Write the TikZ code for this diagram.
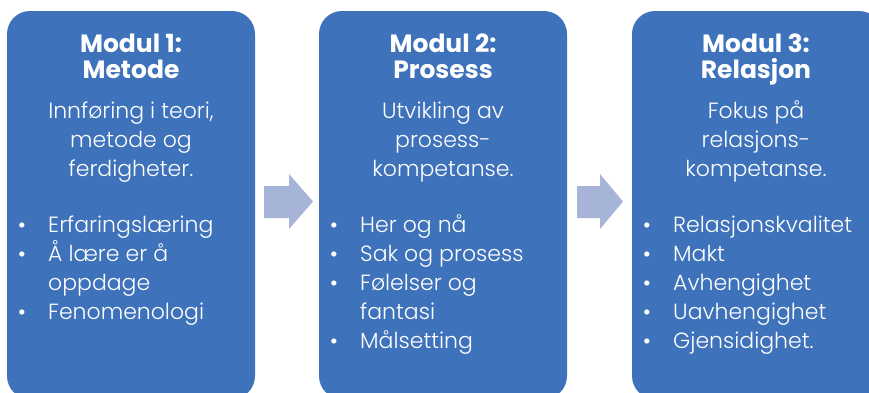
\documentclass[tikz,border=0pt]{standalone}
\usepackage{fontspec}
\setmainfont{Poppins}
\newfontfamily\lightfont{Poppins Light}
\definecolor{boxblue}{RGB}{62,114,186}
\definecolor{arrowblue}{RGB}{166,180,216}
\tikzset{
  modbox/.style={fill=boxblue, draw=none, rounded corners=23pt},
  flowarrow/.style={fill=arrowblue, draw=none},
  ttl/.style={anchor=base, inner sep=0pt, text=white, font=\fontsize{25}{25}\selectfont\bfseries},
  bodytxt/.style={anchor=base, inner sep=0pt, text=white, font=\lightfont\fontsize{22}{22}\selectfont},
  bul/.style={anchor=base, inner sep=0pt, text=white, font=\fontsize{21}{21}\selectfont},
  bultxt/.style={anchor=base west, inner sep=0pt, text=white, font=\lightfont\fontsize{22}{22}\selectfont},
}
\begin{document}
\begin{tikzpicture}[x=1pt,y=-1pt]
\useasboundingbox (0,0) rectangle (869,392);
\clip (0,0) rectangle (869,392);
% boxes
\fill[modbox] (7,11) rectangle (255,399);
\fill[modbox] (319,11) rectangle (567,399);
\fill[modbox] (632,11) rectangle (882,399);
% arrows
\fill[flowarrow] (264,186) -- (289,186) -- (289,174) -- (313,201.5) -- (289,229) -- (289,218) -- (264,218) -- cycle;
\fill[flowarrow] (577,186) -- (600,186) -- (600,174) -- (623,201.5) -- (600,229) -- (600,218) -- (577,218) -- cycle;
% box 1
\node[ttl] (t1a) at (131,52) {Modul 1:};
\node[ttl] (t1b) at (131,78) {Metode};
\node[bodytxt] (b1a) at (131,118) {Innføring i teori,};
\node[bodytxt] (b1b) at (131,147) {metode og};
\node[bodytxt] (b1c) at (131,176) {ferdigheter.};
\node[bul] (p1a) at (22,232) {•};
\node[bultxt] (l1a) at (48,232) {Erfaringslæring};
\node[bul] (p1b) at (22,261) {•};
\node[bultxt] (l1b) at (48,261) {Å lære er å};
\node[bultxt] (l1c) at (48,290) {oppdage};
\node[bul] (p1d) at (22,319) {•};
\node[bultxt] (l1d) at (48,319) {Fenomenologi};
% box 2
\node[ttl] (t2a) at (443,52) {Modul 2:};
\node[ttl] (t2b) at (443,78) {Prosess};
\node[bodytxt] (b2a) at (443,118) {Utvikling av};
\node[bodytxt] (b2b) at (443,147) {prosess-};
\node[bodytxt] (b2c) at (443,176) {kompetanse.};
\node[bul] (p2a) at (334,232) {•};
\node[bultxt] (l2a) at (360,232) {Her og nå};
\node[bul] (p2b) at (334,261) {•};
\node[bultxt] (l2b) at (360,261) {Sak og prosess};
\node[bul] (p2c) at (334,290) {•};
\node[bultxt] (l2c) at (360,290) {Følelser og};
\node[bultxt] (l2d) at (360,319) {fantasi};
\node[bul] (p2e) at (334,348) {•};
\node[bultxt] (l2e) at (360,348) {Målsetting};
% box 3
\node[ttl] (t3a) at (756,52) {Modul 3:};
\node[ttl] (t3b) at (756,78) {Relasjon};
\node[bodytxt] (b3a) at (756,118) {Fokus på};
\node[bodytxt] (b3b) at (756,147) {relasjons-};
\node[bodytxt] (b3c) at (756,176) {kompetanse.};
\node[bul] (p3a) at (647,232) {•};
\node[bultxt] (l3a) at (673,232) {Relasjonskvalitet};
\node[bul] (p3b) at (647,261) {•};
\node[bultxt] (l3b) at (673,261) {Makt};
\node[bul] (p3c) at (647,290) {•};
\node[bultxt] (l3c) at (673,290) {Avhengighet};
\node[bul] (p3d) at (647,319) {•};
\node[bultxt] (l3d) at (673,319) {Uavhengighet};
\node[bul] (p3e) at (647,348) {•};
\node[bultxt] (l3e) at (673,348) {Gjensidighet.};
\end{tikzpicture}
\end{document}
